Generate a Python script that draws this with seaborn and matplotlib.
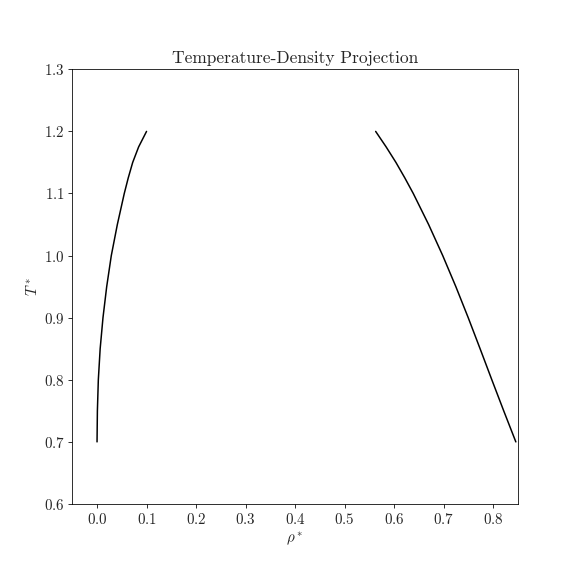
import numpy as np
import pandas as pd
import matplotlib
matplotlib.use("Agg")
import matplotlib.pyplot as plt
import seaborn as sns

# coexistence curve
temps = [0.70, 0.75, 0.80, 0.85, 0.90, 0.95, 1.00, 1.05, 1.10, 1.125, 1.15, 1.175, 1.20]
rho_vapor = [0.0000, 0.0007, 0.0026, 0.0063, 0.0120, 0.0195, 0.0288, 0.0410, 0.0550,
             0.0630, 0.0720, 0.0840, 0.1000]
rho_liquid = [0.8460, 0.8215, 0.7975, 0.7738, 0.7498, 0.7248, 0.6983, 0.6698, 0.6388,
              0.6218, 0.6038, 0.5840, 0.5628]

vap = pd.DataFrame({'rho': rho_vapor, 'T': temps})
liq = pd.DataFrame({'rho': rho_liquid, 'T': temps})

sns.set_style("ticks")
plt.rcParams['font.family'] = ['cmr10', 'DejaVu Serif']
plt.rcParams['mathtext.fontset'] = 'cm'
plt.rcParams['axes.formatter.use_mathtext'] = True
plt.rcParams['axes.unicode_minus'] = False

fig, ax = plt.subplots(figsize=(8, 8), dpi=72)
fig.subplots_adjust(left=0.1255, right=0.899, bottom=0.125, top=0.8797)

sns.lineplot(data=vap, x='rho', y='T', sort=False, color='black', linewidth=1.5, ax=ax)
sns.lineplot(data=liq, x='rho', y='T', sort=False, color='black', linewidth=1.5, ax=ax)

ax.set_xlim(-0.05, 0.85)
ax.set_ylim(0.6, 1.3)
ax.set_xticks(np.arange(0.0, 0.81, 0.1))
ax.set_yticks(np.arange(0.6, 1.31, 0.1))
ax.tick_params(labelsize=15, direction='out', length=4, color='black')
for s in ax.spines.values():
    s.set_color('black')
    s.set_linewidth(0.8)

ax.set_xlabel(r'$\rho^*$', fontsize=15)
ax.set_ylabel(r'$T^*$', fontsize=15)
ax.set_title('Temperature-Density Projection', fontsize=17.4)

fig.savefig('out.png', dpi=72)
